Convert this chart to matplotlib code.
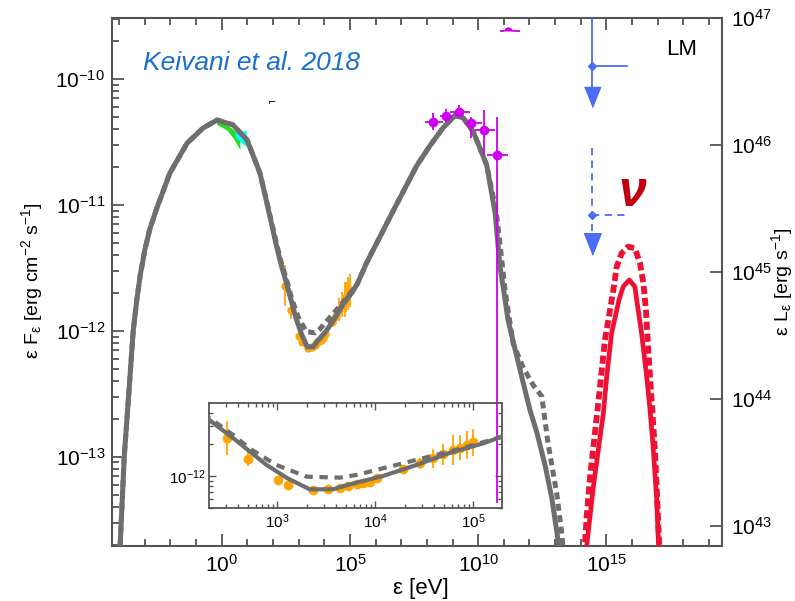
import numpy as np
import matplotlib
matplotlib.use('Agg')
import matplotlib.pyplot as plt
from matplotlib.ticker import FixedLocator, FuncFormatter, NullFormatter, LogLocator

plt.rcParams['font.family'] = ['Liberation Sans', 'DejaVu Sans']
plt.rcParams['mathtext.default'] = 'regular'

# ---------------- data (log10 values) ----------------
# model SED, solid grey
solid_logE = [-4.10, -3.96, -3.80, -3.64, -3.45, -3.31, -3.17, -3.00, -2.80, -2.52,
              -2.02, -1.35, -0.73, -0.18, 0.44, 0.99, 1.49, 1.80, 2.14, 2.31,
              2.55, 2.89, 3.10, 3.33, 3.57, 3.74, 4.08, 4.42, 4.76, 5.10,
              5.29, 5.65, 6.68, 7.60, 8.12, 8.64, 9.10, 9.42, 9.81, 10.07,
              10.33, 10.66, 10.85, 11.05, 11.16, 11.44, 11.75, 12.02, 12.29, 12.61,
              12.88, 13.11, 13.23]
solid_logF = [-14.30, -13.707, -13.00, -12.55, -12.00, -11.755, -11.55, -11.36, -11.19, -11.02,
              -10.747, -10.51, -10.39, -10.326, -10.365, -10.485, -10.747, -11.02, -11.33, -11.47,
              -11.64, -11.895, -12.02, -12.127, -12.127, -12.08, -12.00, -11.895, -11.78, -11.69,
              -11.626, -11.46, -11.05, -10.69, -10.53, -10.385, -10.29, -10.31, -10.42, -10.55,
              -10.683, -11.065, -11.49, -11.755, -11.91, -12.15, -12.41, -12.63, -12.81, -13.07,
              -13.34, -13.66, -13.90]
# model SED, dashed grey
dash_logE = [-4.10, -3.96, -3.80, -3.64, -3.45, -3.31, -3.17, -3.00, -2.80, -2.52,
             -2.02, -1.35, -0.73, -0.18, 0.44, 0.99, 1.49, 1.80, 2.14, 2.31,
             2.55, 2.72, 2.99, 3.30, 3.64, 3.81, 4.15, 4.49, 4.83, 5.17,
             5.29, 5.65, 6.68, 7.60, 8.12, 8.64, 9.10, 9.42, 9.81, 10.07,
             10.33, 10.70, 10.90, 11.05, 11.36, 11.75, 12.14, 12.48, 12.72, 13.06,
             13.26, 13.35]
dash_logF = [-14.30, -13.707, -13.00, -12.55, -12.00, -11.755, -11.55, -11.36, -11.19, -11.02,
             -10.747, -10.51, -10.39, -10.326, -10.365, -10.485, -10.747, -11.01, -11.31, -11.45,
             -11.61, -11.74, -11.895, -12.007, -12.016, -11.99, -11.91, -11.83, -11.75, -11.66,
             -11.626, -11.46, -11.05, -10.69, -10.53, -10.385, -10.29, -10.31, -10.42, -10.55,
             -10.683, -11.05, -11.40, -11.68, -12.10, -12.29, -12.43, -12.52, -12.89, -13.29,
             -13.61, -13.82]
# neutrino spectra (red)
nu_solid_logE = [14.10, 14.23, 14.49, 14.68, 14.88, 15.01, 15.20, 15.49, 15.65, 15.89,
                 16.11, 16.18, 16.37, 16.57, 16.70, 16.83, 16.96, 17.03, 17.08]
nu_solid_logF = [-14.20, -13.707, -13.24, -12.95, -12.655, -12.365, -12.02, -11.755, -11.65, -11.596,
                 -11.65, -11.755, -12.02, -12.365, -12.63, -12.95, -13.34, -13.707, -14.20]
nu_dash_logE = [14.08, 14.16, 14.23, 14.36, 14.55, 14.75, 14.94, 15.14, 15.27, 15.40,
                15.59, 15.85, 16.11, 16.31, 16.44, 16.54, 16.63, 16.76, 16.89, 16.98,
                17.06, 17.12]
nu_dash_logF = [-14.20, -13.707, -13.477, -13.16, -12.814, -12.444, -12.073, -11.835, -11.676, -11.49,
                -11.384, -11.332, -11.345, -11.464, -11.623, -11.835, -12.153, -12.55, -12.947, -13.344,
                -13.707, -14.20]
# X-ray data (orange)
xr_logE = [2.484, 2.704, 3.004, 3.112, 3.367, 3.520, 3.640, 3.724, 3.810, 3.877,
           3.946, 4.014, 4.286, 4.456, 4.592, 4.694, 4.796, 4.864, 4.932, 5.000]
xr_logF = [-11.641, -11.838, -12.038, -12.086, -12.133, -12.127, -12.111, -12.092, -12.079, -12.070,
           -12.054, -12.022, -11.933, -11.879, -11.831, -11.793, -11.752, -11.730, -11.705, -11.679]
xr_err = [0.16, 0.07, 0.03, 0.03, 0.02, 0.02, 0.02, 0.02, 0.02, 0.02,
          0.02, 0.03, 0.04, 0.05, 0.09, 0.10, 0.14, 0.12, 0.13, 0.13]
# gamma-ray data (magenta)
gr_logE = [8.25, 8.73, 9.25, 9.72, 10.23, 10.72]
gr_logF = [-10.339, -10.292, -10.26, -10.347, -10.405, -10.604]
gr_logE_lo = [7.93, 8.51, 8.90, 9.49, 9.88, 10.33]
gr_logE_hi = [8.64, 8.97, 9.68, 10.14, 10.66, 11.17]
gr_logF_lo = [-10.405, -10.34, -10.312, -10.47, -10.604, -13.37]
gr_logF_hi = [-10.272, -10.24, -10.207, -10.30, -10.246, -10.30]
gr_top_logE, gr_top_logF, gr_top_lo, gr_top_hi = 11.17, -9.616, 10.85, 11.63
# optical/UV bands
opt_logE = [-0.20, 0.20, 0.45, 0.71]
opt_up = [-10.33, -10.365, -10.40, -10.47]
opt_lo = [-10.36, -10.405, -10.47, -10.56]
uv_logE = [0.52, 0.95]
uv_up = [-10.41, -10.41]
uv_lo = [-10.46, -10.54]
# neutrino upper limits (blue)
ul_logE, ul_logE_hi = 14.42, 15.81
ul1_logF, ul1_top, ul1_arrow = -9.894, -9.30, -10.14
ul2_logF, ul2_top, ul2_arrow = -11.080, -10.55, -11.31

# ---------------- figure ----------------
W, H = 795, 601
fig = plt.figure(figsize=(W / 100, H / 100), dpi=100)
ax = fig.add_axes([112 / W, 1 - 545.7 / H, 610.3 / W, 527.4 / H])
ax.set_xscale('log')
ax.set_yscale('log')
ax.set_xlim(10 ** -4.277, 10 ** 19.517)
ax.set_ylim(10 ** -13.707, 10 ** -9.518)

p = lambda a: np.power(10.0, np.asarray(a, dtype=float))
grey = '#6e6e6e'
red = '#ee1133'
blue = '#4a6cf7'
mag = '#cc00ee'
orange = '#ffa500'

ax.fill_between(p(opt_logE), p(opt_lo), p(opt_up), color='#22dd22', lw=0, zorder=2)
ax.fill_between(p(uv_logE), p(uv_lo), p(uv_up), color='#00ffff', lw=0, zorder=2)

ax.errorbar(p(xr_logE), p(xr_logF),
            yerr=[p(xr_logF) - p(np.array(xr_logF) - xr_err), p(np.array(xr_logF) + xr_err) - p(xr_logF)],
            fmt='o', color=orange, ms=5, elinewidth=1.3, capsize=0, zorder=2)

ax.plot(p(solid_logE), p(solid_logF), color=grey, lw=3.6, zorder=3)
ax.plot(p(dash_logE), p(dash_logF), color=grey, lw=3.6, dashes=(1.4, 0.9), zorder=3)
ax.plot(p(nu_solid_logE), p(nu_solid_logF), color=red, lw=3.4, zorder=3)
ax.plot(p(nu_dash_logE), p(nu_dash_logF), color=red, lw=4.2, dashes=(1.4, 0.65), zorder=3)

gE, gF = p(gr_logE), p(gr_logF)
ax.errorbar(gE, gF, xerr=[gE - p(gr_logE_lo), p(gr_logE_hi) - gE],
            yerr=[gF - p(gr_logF_lo), p(gr_logF_hi) - gF],
            fmt='o', color=mag, ms=6, elinewidth=1.3, capsize=0, zorder=6)
ax.errorbar([p(gr_top_logE)], [p(gr_top_logF)],
            xerr=[[p(gr_top_logE) - p(gr_top_lo)], [p(gr_top_hi) - p(gr_top_logE)]],
            fmt='o', color=mag, ms=6, fillstyle='top', markerfacecoloralt='white',
            markeredgewidth=0, elinewidth=1.3, capsize=0, zorder=6, clip_on=False)

arrow = [(-0.4, 0.5), (0.4, 0.5), (0.0, -0.5)]
uE, uEh = p(ul_logE), p(ul_logE_hi)
ax.plot([uE, uE], [p(ul1_top), p(ul1_arrow)], color=blue, lw=1.3, zorder=5)
ax.plot([uE, uEh], [p(ul1_logF), p(ul1_logF)], color=blue, lw=1.3, zorder=5)
ax.plot([uE], [p(ul1_logF)], marker='D', color=blue, ms=4, zorder=5)
ax.plot([uE], [p(ul1_arrow)], marker=arrow, color=blue, ms=14.5, zorder=5, ls='none')
ax.plot([uE, uE], [p(ul2_top), p(ul2_arrow)], color=blue, lw=1.3, ls=(0, (4, 3)), zorder=5)
ax.plot([uE, uEh], [p(ul2_logF), p(ul2_logF)], color=blue, lw=1.3, ls=(0, (4, 3)), zorder=5)
ax.plot([uE], [p(ul2_logF)], marker='D', color=blue, ms=4, zorder=5)
ax.plot([uE], [p(ul2_arrow)], marker=arrow, color=blue, ms=15.5, zorder=5, ls='none')

fmt = FuncFormatter(lambda v, pos: r'$10^{%d}$' % int(round(np.log10(v))))
ax.xaxis.set_major_locator(FixedLocator([1e0, 1e5, 1e10, 1e15]))
ax.xaxis.set_minor_locator(FixedLocator([10.0 ** k for k in range(-4, 20) if k % 5]))
ax.xaxis.set_major_formatter(fmt)
ax.xaxis.set_minor_formatter(NullFormatter())
ax.yaxis.set_major_locator(FixedLocator([1e-13, 1e-12, 1e-11, 1e-10]))
ax.yaxis.set_minor_locator(LogLocator(base=10, subs=np.arange(2, 10), numticks=20))
ax.yaxis.set_major_formatter(fmt)
ax.yaxis.set_minor_formatter(NullFormatter())

fc = '#555555'
for s in ax.spines.values():
    s.set_linewidth(1.5)
    s.set_color(fc)
ax.tick_params(which='both', direction='in', top=True, right=False, color=fc, width=1.3,
               labelsize=15, pad=5)
ax.tick_params(which='major', length=8.6)
ax.tick_params(which='minor', length=4.7)
ax.tick_params(axis='x', pad=6)

ax.set_xlabel('ε [eV]', fontsize=16)
ax.xaxis.set_label_coords(0.506, -0.062)
ax.set_ylabel('ε F$_ε$ [erg cm$^{-2}$ s$^{-1}$]', fontsize=14)
ax.yaxis.set_label_coords(-0.11, 0.502)

ax2 = ax.twinx()
ax2.set_yscale('log')
ax2.set_ylim(10 ** 42.841, 1e47)
ax2.yaxis.set_major_locator(FixedLocator([1e43, 1e44, 1e45, 1e46, 1e47]))
ax2.yaxis.set_minor_locator(FixedLocator([]))
ax2.yaxis.set_major_formatter(fmt)
ax2.tick_params(which='both', direction='in', color=fc, width=1.3, length=8.6, labelsize=15, pad=6)
for s in ax2.spines.values():
    s.set_visible(False)
ax2.set_ylabel('ε L$_ε$ [erg s$^{-1}$]', fontsize=14)
ax2.yaxis.set_label_coords(1.077, 0.50)

# ---------------- inset ----------------
axin = fig.add_axes([209.3 / W, 1 - 508.3 / H, 293 / W, 105 / H])
axin.set_facecolor('none')
axin.set_xscale('log')
axin.set_yscale('log')
axin.set_xlim(10 ** 2.306, 10 ** 5.296)
axin.set_ylim(10 ** -12.308, 10 ** -11.308)
axin.errorbar(p(xr_logE), p(xr_logF),
              yerr=[p(xr_logF) - p(np.array(xr_logF) - xr_err), p(np.array(xr_logF) + xr_err) - p(xr_logF)],
              fmt='o', color=orange, ms=6, elinewidth=1.3, capsize=0, zorder=2)
axin.plot(p(solid_logE), p(solid_logF), color=grey, lw=3.0, zorder=3)
axin.plot(p(dash_logE), p(dash_logF), color=grey, lw=3.0, dashes=(2.0, 1.6), zorder=3)
axin.xaxis.set_major_locator(FixedLocator([1e3, 1e4, 1e5]))
axin.xaxis.set_minor_locator(LogLocator(base=10, subs=np.arange(2, 10), numticks=20))
axin.xaxis.set_major_formatter(fmt)
axin.xaxis.set_minor_formatter(NullFormatter())
axin.yaxis.set_major_locator(FixedLocator([1e-12]))
axin.yaxis.set_minor_locator(LogLocator(base=10, subs=np.arange(2, 10), numticks=20))
axin.yaxis.set_major_formatter(fmt)
axin.yaxis.set_minor_formatter(NullFormatter())
for s in axin.spines.values():
    s.set_linewidth(1.3)
    s.set_color(fc)
axin.tick_params(which='both', direction='in', top=True, right=True, color=fc, width=1.0,
                 labelsize=11, pad=3)
axin.tick_params(which='major', length=5)
axin.tick_params(which='minor', length=3)

# ---------------- annotations ----------------
fig.text(143 / W, 1 - 70 / H, 'Keivani et al. 2018', ha='left', va='baseline', fontsize=19,
         style='italic', color='#1a6fd0')
fig.text(681.7 / W, 1 - 49.5 / H, 'LM', ha='center', va='center', fontsize=16, color='black')
fig.text(632.5 / W, 1 - 193 / H, 'ν', ha='center', va='center', fontsize=36, fontweight='bold',
         style='italic', color='#c0000f', family=['Liberation Sans', 'DejaVu Sans'])
fig.text(272 / W, 1 - 101 / H, '⌐', ha='center', va='center', fontsize=7, color='black',
         family=['DejaVu Sans'])

fig.savefig('out.png', dpi=100)
